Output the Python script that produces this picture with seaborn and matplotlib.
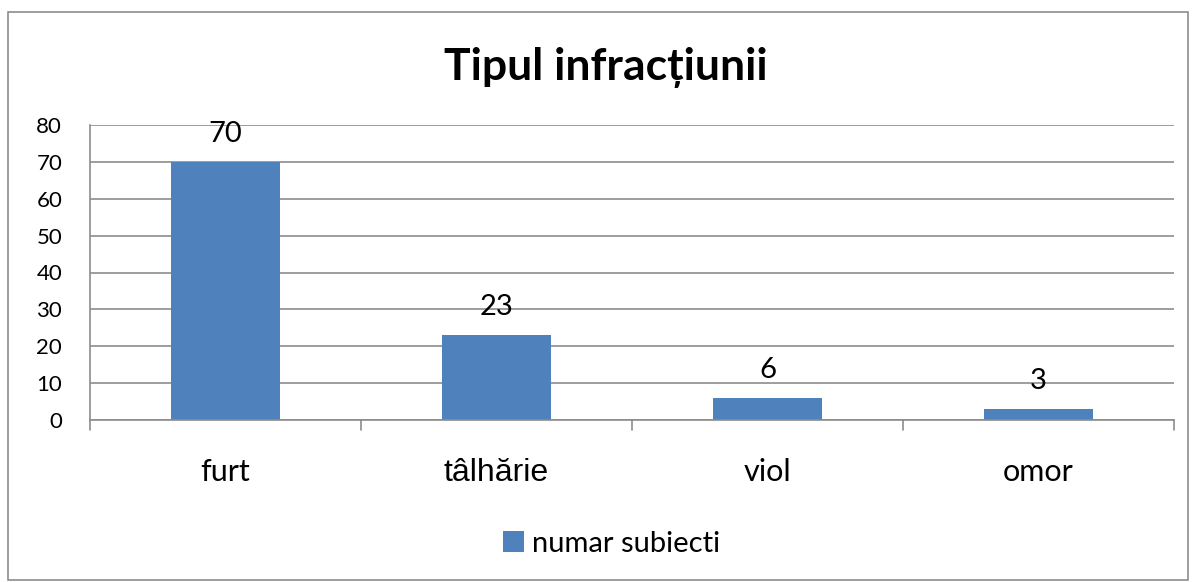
import pandas as pd
import matplotlib.pyplot as plt
import seaborn as sns
from matplotlib.patches import Rectangle

# Data
categories = ['furt', 'tâlhărie', 'viol', 'omor']
values = [70, 23, 6, 3]
series_name = 'numar subiecti'
title = 'Tipul infracțiunii'

df = pd.DataFrame({'tip': categories, series_name: values})

sns.set_style('white')
plt.rcParams['font.family'] = ['Lato', 'DejaVu Sans']
plt.rcParams['text.color'] = 'black'
plt.rcParams['xtick.color'] = 'black'
plt.rcParams['ytick.color'] = 'black'

bar_color = '#4F81BD'
grid_color = '#8C8C8C'

fig = plt.figure(figsize=(11.92, 5.82), dpi=100)
ax = fig.add_axes([90 / 1192, 1 - 420 / 582, (1174 - 90) / 1192, (420 - 125) / 582])

sns.barplot(data=df, x='tip', y=series_name, color=bar_color, width=0.4,
            saturation=1, linewidth=0, ax=ax, label=series_name)

ax.set_ylim(0, 80)
ax.set_xlim(-0.5, len(categories) - 0.5)
ax.set_yticks(range(0, 81, 10))
ax.yaxis.grid(True, color=grid_color, linewidth=1.2)
ax.set_axisbelow(True)
ax.set_xlabel('')
ax.set_ylabel('')

for s in ['top', 'right']:
    ax.spines[s].set_visible(False)
for s in ['left', 'bottom']:
    ax.spines[s].set_color(grid_color)
    ax.spines[s].set_linewidth(1.2)

ax.tick_params(axis='y', length=8, width=1.2, color=grid_color, labelcolor='black',
               labelsize=16, pad=12)
ax.tick_params(axis='x', length=0, labelcolor='black', labelsize=22, pad=44)

# x ticks at category boundaries (Excel style)
for b in [i - 0.5 for i in range(len(categories) + 1)]:
    ax.plot([b, b], [0, -10 * 80 / 295], color=grid_color, lw=1.2, clip_on=False)

for lbl in ax.get_xticklabels():
    lbl.set_verticalalignment('baseline')
    if lbl.get_text() == 'tâlhărie':
        lbl.set_family(['Liberation Sans', 'DejaVu Sans'])
        lbl.set_fontsize(23)

# value labels
for i, v in enumerate(values):
    ax.annotate(str(v), (i, v), xytext=(0, 11), textcoords='offset points',
                ha='center', va='bottom', fontsize=21)

fig.suptitle(title, fontsize=32, fontweight='bold', x=606 / 1192, y=1 - 68 / 582, va='center')

leg = ax.legend(loc='center', bbox_to_anchor=(0.4815, -0.42), frameon=False,
                fontsize=21, handlelength=0.7, handleheight=0.7, handletextpad=0.3)

# outer chart border
fig.patches.append(Rectangle((8 / 1192, 2 / 582), 1180 / 1192, 568 / 582,
                             transform=fig.transFigure, fill=False,
                             edgecolor='#8C8C8C', linewidth=1.2))

fig.savefig('out.png', dpi=100)
